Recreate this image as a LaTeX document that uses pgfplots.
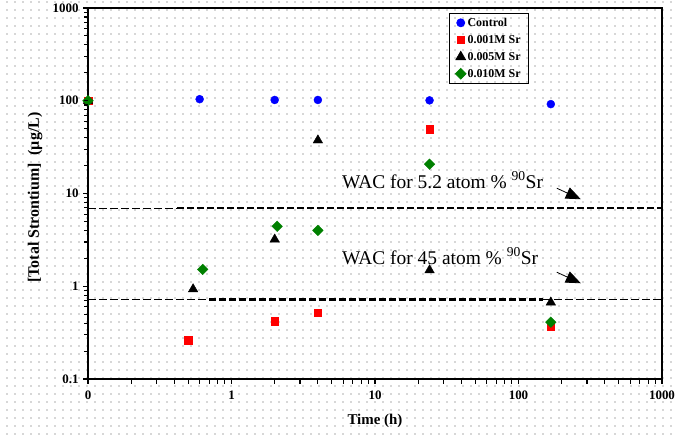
\documentclass[border=0pt]{standalone}
\usepackage{fontspec}
\setmainfont{Liberation Serif}
\usepackage{pgfplots}
\pgfplotsset{compat=1.18}
\usetikzlibrary{arrows.meta}

\definecolor{ctrlblue}{RGB}{0,0,255}
\definecolor{srred}{RGB}{255,0,0}
\definecolor{srgreen}{RGB}{0,128,0}
\definecolor{dotgray}{RGB}{160,160,160}

\begin{document}
\begin{tikzpicture}
% dotted page grid, one dot every 8bp
\fill[dotgray] \foreach \x in {-81,-73,...,583} {
    \foreach \y in {-55,-47,...,377} {
      (\x bp-0.6bp,\y bp-0.6bp) rectangle ++(1.2bp,1.2bp)
    }
  };
\begin{axis}[
  name=ax, at={(0,0)}, anchor=south west,
  scale only axis, width=574bp, height=371bp,
  xmode=log, ymode=log,
  xmin=0.1, xmax=1000, ymin=0.1, ymax=1000,
  xtick={0.1,1,10,100,1000}, xticklabels={0,1,10,100,1000},
  ytick={0.1,1,10,100,1000}, yticklabels={0.1,1,10,100,1000},
  tick align=outside,
  xtick pos=lower, ytick pos=lower,
  major tick length=5bp, minor tick length=4bp,
  every tick/.append style={draw=black, line width=1.1bp},
  axis line style={line width=1.1bp},
  ticklabel style={font=\fontsize{13}{13}\selectfont\bfseries},
  xticklabel style={yshift=-3bp},
  yticklabel style={xshift=-1bp},
  xlabel={Time (h)},
  ylabel={[Total Strontium]\ \ (µg/L)},
  xlabel style={font=\fontsize{15}{15}\selectfont\bfseries,
    at={(axis description cs:0.5,-0.113)}, anchor=center},
  ylabel style={font=\fontsize{16}{16}\selectfont\bfseries,
    at={(axis description cs:-0.092,0.489)}, anchor=center},
  clip mode=individual,
  legend cell align=left,
  legend style={at={(axis description cs:0.629,0.9865)}, anchor=north west,
    draw=black, fill=none, line width=0.8bp, inner xsep=6bp, inner ysep=3bp,
    row sep=4.5bp,
    font=\fontsize{12}{12}\selectfont\bfseries,
    nodes={inner sep=1.5bp}},
]
% Control
\addplot[only marks, mark=*, mark size=4bp, color=ctrlblue]
  coordinates {(0.1,100) (0.6,104) (2,102) (4,102) (24,101) (168,92)};
\addlegendentry{Control}
% 0.001 M Sr
\addplot[only marks, mark=square*, mark size=3.8bp, color=srred]
  coordinates {(0.1,100) (0.5,0.262) (2,0.42) (4,0.52) (24,49) (168,0.37)};
\addlegendentry{0.001M Sr}
% 0.005 M Sr
\addplot[only marks, mark=triangle*, mark size=5.5bp, color=black]
  coordinates {(0.1,100) (0.54,0.93) (2,3.2) (4,37.5) (24,1.49) (168,0.67)};
\addlegendentry{0.005M Sr}
% 0.010 M Sr
\addplot[only marks, mark=square*, mark size=3.75bp, color=srgreen,
  mark options={rotate=45}]
  coordinates {(0.1,100) (0.63,1.52) (2.08,4.43) (4,4.0) (24,20.7) (168,0.41)};
\addlegendentry{0.010M Sr}

% WAC limits
\addplot[forget plot, black, line width=0.6bp, dash pattern=on 8bp off 3bp]
  coordinates {(0.1,6.93) (0.42,6.93)};
\addplot[forget plot, black, line width=2.2bp, dash pattern=on 7bp off 3bp]
  coordinates {(0.42,6.93) (1000,6.93)};
\addplot[forget plot, black, line width=0.6bp, dash pattern=on 8bp off 3bp]
  coordinates {(0.1,0.72) (0.7,0.72)};
\addplot[forget plot, black, line width=2.2bp, dash pattern=on 7bp off 3bp]
  coordinates {(0.7,0.72) (148,0.72)};
\addplot[forget plot, black, line width=0.6bp, dash pattern=on 8bp off 3bp]
  coordinates {(148,0.72) (1000,0.72)};

% decade and sub-decade tick marks on the lower and left axis lines
\pgfplotsinvokeforeach{0.1,0.2,0.3,0.4,0.5,0.6,0.7,0.8,0.9,1,2,3,4,5,6,7,8,9,
    10,20,30,40,50,60,70,80,90,100,200,300,400,500,600,700,800,900,1000}{
  \draw[black, line width=1.1bp]
    (axis cs:#1,0.1) -- ([yshift=-5bp]axis cs:#1,0.1);
  \draw[black, line width=1.1bp]
    (axis cs:0.1,#1) -- ([xshift=-4bp]axis cs:0.1,#1);
}

\node[anchor=base west, font=\fontsize{19.5}{20}\selectfont, inner sep=0pt]
  at (axis cs:5.89,11.4) {WAC for 5.2 atom \% \textsuperscript{90}Sr};
\node[anchor=base west, font=\fontsize{19.5}{20}\selectfont, inner sep=0pt]
  at (axis cs:5.89,1.727) {WAC for 45 atom \% \textsuperscript{90}Sr};
\draw[-{Triangle[length=15bp,width=12bp]}, line width=0.8bp]
  (axis cs:185,11.4) -- (axis cs:272,8.67);
\draw[-{Triangle[length=15bp,width=12bp]}, line width=0.8bp]
  (axis cs:185,1.416) -- (axis cs:272,1.077);
\end{axis}
\pgfresetboundingbox
\path (-88bp,-57bp) rectangle (591bp,379bp);
\end{tikzpicture}
\end{document}
